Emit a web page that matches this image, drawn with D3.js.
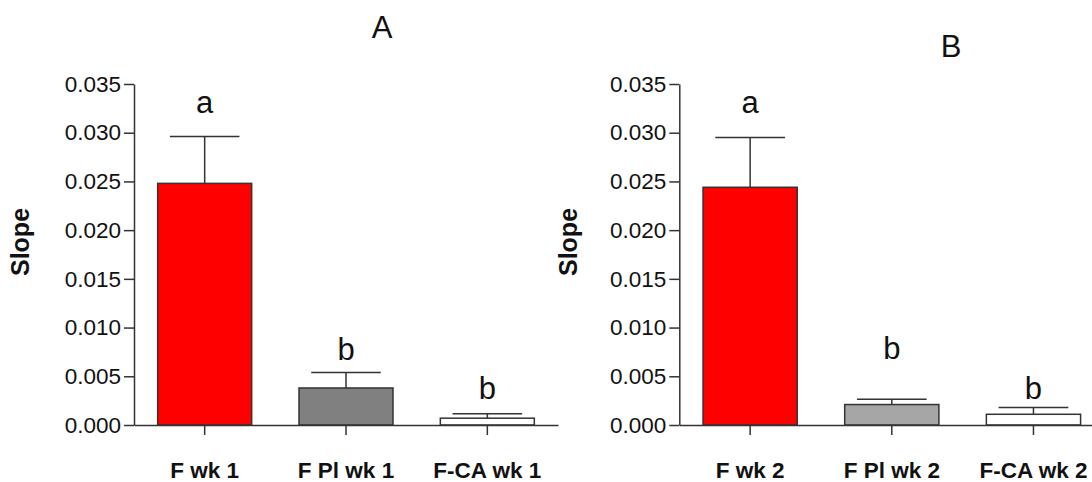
<!DOCTYPE html>
<html>
<head>
<meta charset="utf-8">
<script src="https://cdn.jsdelivr.net/npm/d3@7"></script>
<style>
  body { margin: 0; background: #fff; }
  svg { display: block; font-family: "Liberation Sans", Arial, sans-serif; }
</style>
</head>
<body>
<svg id="chart" width="1092" height="482"></svg>
<script>
// ---- data ----
const categoriesA = ["F wk 1", "F Pl wk 1", "F-CA wk 1"];
const categoriesB = ["F wk 2", "F Pl wk 2", "F-CA wk 2"];
const meanA = [0.0248, 0.0038, 0.0007];
const errA  = [0.0048, 0.0016, 0.00046];
const meanB = [0.0244, 0.0021, 0.0011];
const errB  = [0.0051, 0.00055, 0.0007];
const lettersA = ["a", "b", "b"];
const lettersB = ["a", "b", "b"];
const letterPosA = [0.0320, 0.00667, 0.00267];
const letterPosB = [0.0320, 0.00677, 0.00267];
const fillsA = ["#ff0000", "#808080", "#ffffff"];
const fillsB = ["#ff0000", "#a6a6a6", "#ffffff"];
const yTicks = [0, 0.005, 0.010, 0.015, 0.020, 0.025, 0.030, 0.035];
const titles = ["A", "B"];
const yLabel = "Slope";

const svg = d3.select("#chart");
const y = d3.scaleLinear().domain([0, 0.035]).range([425, 84]);

const panels = [
  { cats: categoriesA, mean: meanA, err: errA, letters: lettersA, lpos: letterPosA, fills: fillsA,
    x0: 134, x1: 558, title: titles[0], tx: 382, ty: 38, labX: 29 },
  { cats: categoriesB, mean: meanB, err: errB, letters: lettersB, lpos: letterPosB, fills: fillsB,
    x0: 679.3, x1: 1104.3, title: titles[1], tx: 951, ty: 57, labX: 577 }
];

const stroke = "#333";

panels.forEach(p => {
  const g = svg.append("g");
  const x = d3.scaleBand().domain(p.cats).range([p.x0, p.x1])
    .paddingInner(0.335).paddingOuter(0.1675);

  // bars
  g.selectAll("rect.bar").data(p.cats).join("rect")
    .attr("class", "bar")
    .attr("x", d => x(d))
    .attr("width", x.bandwidth())
    .attr("y", (d, i) => y(p.mean[i]))
    .attr("height", (d, i) => y(0) - y(p.mean[i]))
    .attr("fill", (d, i) => p.fills[i])
    .attr("stroke", stroke)
    .attr("stroke-width", 1.5);

  // error bars (upper only)
  const capHalf = x.bandwidth() * 0.37;
  p.cats.forEach((c, i) => {
    const cx = x(c) + x.bandwidth() / 2;
    g.append("line")
      .attr("x1", cx).attr("x2", cx)
      .attr("y1", y(p.mean[i])).attr("y2", y(p.mean[i] + p.err[i]))
      .attr("stroke", stroke).attr("stroke-width", 1.5);
    g.append("line")
      .attr("x1", cx - capHalf).attr("x2", cx + capHalf)
      .attr("y1", y(p.mean[i] + p.err[i])).attr("y2", y(p.mean[i] + p.err[i]))
      .attr("stroke", stroke).attr("stroke-width", 1.5);
    g.append("text")
      .attr("x", cx).attr("y", y(p.lpos[i]))
      .attr("text-anchor", "middle")
      .attr("font-size", 31)
      .attr("fill", "#111")
      .text(p.letters[i]);
  });

  // y axis
  const ya = g.append("g")
    .attr("transform", `translate(${p.x0},0)`)
    .call(d3.axisLeft(y).tickValues(yTicks).tickFormat(d3.format(".3f"))
      .tickSize(10).tickSizeOuter(0).tickPadding(3));
  ya.select(".domain").attr("stroke", stroke).attr("stroke-width", 1.5);
  ya.selectAll(".tick line").attr("stroke", stroke).attr("stroke-width", 1.5);
  ya.selectAll(".tick text").attr("font-size", 22.5).attr("fill", "#111")
    .attr("font-family", "Liberation Sans, Arial, sans-serif");

  // x axis
  const xa = g.append("g")
    .attr("transform", `translate(0,${y(0)})`)
    .call(d3.axisBottom(x).tickSize(10).tickSizeOuter(0));
  xa.select(".domain").attr("stroke", stroke).attr("stroke-width", 1.5);
  xa.selectAll(".tick line").attr("stroke", stroke).attr("stroke-width", 1.5);
  xa.selectAll(".tick text")
    .attr("y", 53).attr("dy", 0)
    .attr("font-size", 22.5).attr("font-weight", "bold").attr("fill", "#111")
    .attr("font-family", "Liberation Sans, Arial, sans-serif");

  // title
  g.append("text").attr("x", p.tx).attr("y", p.ty)
    .attr("text-anchor", "middle").attr("font-size", 31).attr("fill", "#111")
    .text(p.title);

  // y label
  g.append("text")
    .attr("transform", `translate(${p.labX},242) rotate(-90)`)
    .attr("text-anchor", "middle")
    .attr("font-size", 25).attr("font-weight", "bold").attr("fill", "#111")
    .text(yLabel);
});
</script>
</body>
</html>
